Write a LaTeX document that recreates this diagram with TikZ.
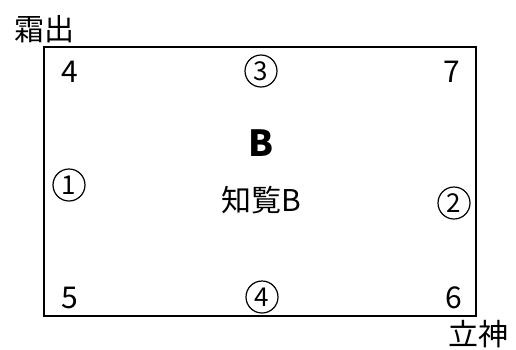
\documentclass[tikz,border=0pt]{standalone}
\usepackage{fontspec}
\setmainfont{Noto Sans CJK JP}
\begin{document}
\begin{tikzpicture}[x=1pt,y=-1pt,
  lbl/.style={inner sep=0pt,font=\fontsize{30}{32}\selectfont},
  circ/.style={circle,draw,line width=1.2pt,minimum size=32pt,inner sep=0pt,
    font=\fontsize{26}{28}\selectfont},
  big/.style={inner sep=0pt,font=\fontsize{36}{38}\selectfont\bfseries}]
\useasboundingbox (0,0) rectangle (516,349);
\draw[line width=2pt] (44,47) rectangle (476,316);
\node[lbl] (t1) at (44,29) {霜出};
\node[lbl] (t2) at (478,334) {立神};
\node[lbl] (n4) at (70,72) {4};
\node[circ] (c3) at (261,71) {3};
\node[lbl] (n7) at (452,72) {7};
\node[circ] (c1) at (69,185) {1};
\node[circ] (c2) at (454,203) {2};
\node[lbl] (n5) at (70,298) {5};
\node[circ] (c4) at (262,297) {4};
\node[lbl] (n6) at (454,298) {6};
\node[big] (b) at (261,143) {B};
\node[lbl] (kb) at (261,200) {知覧B};
\end{tikzpicture}
\end{document}
